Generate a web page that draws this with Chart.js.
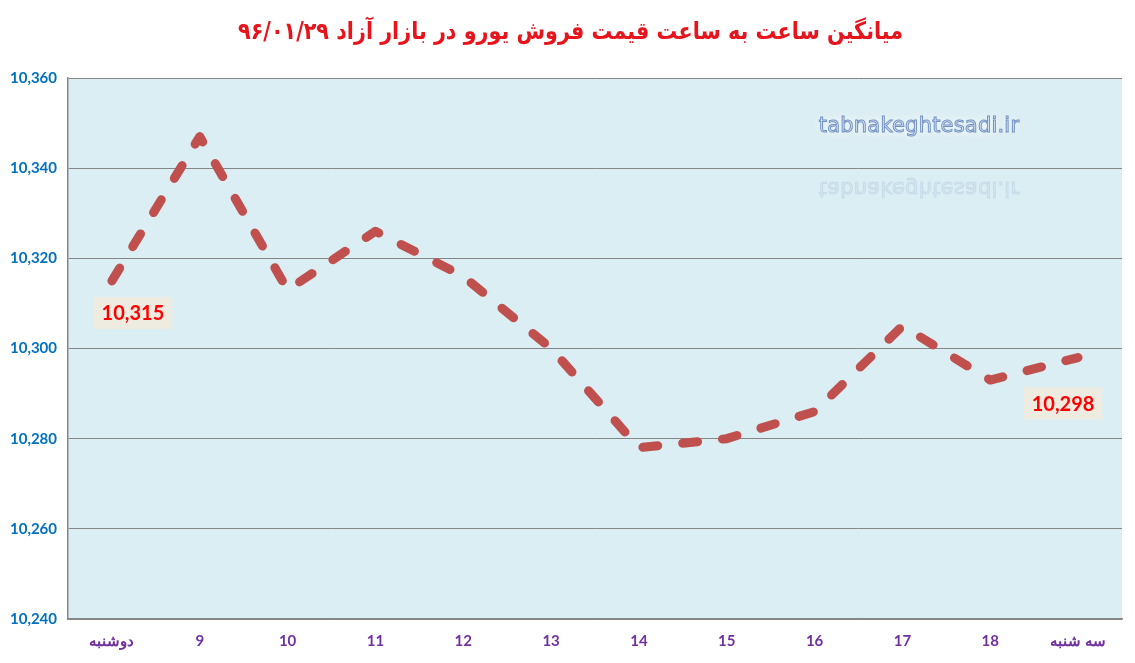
<!DOCTYPE html>
<html><head><meta charset="utf-8">
<script src="https://cdn.jsdelivr.net/npm/chart.js@4/dist/chart.umd.min.js"></script>
<style>html,body{margin:0;padding:0;background:#fff;overflow:hidden}#wrap{width:1135px;height:663px;position:relative}</style>
</head><body><div id="wrap"><canvas id="c"></canvas></div>
<script>
const categories = ['دوشنبه','9','10','11','12','13','14','15','16','17','18','سه شنبه'];
const prices = [10315,10347,10313,10326,10316,10300,10278,10280,10286,10305,10293,10298];
const yMin = 10240, yMax = 10360, yStep = 20;
const titleText = 'میانگین ساعت به ساعت قیمت فروش یورو در بازار آزاد ۹۶/۰۱/۲۹';
const watermarkText = 'tabnakeghtesadi.ir';
const labelledIndices = [0, 11];

const fmt = v => Number(v).toLocaleString('en-US');

const bgPlugin = {
  id: 'bg',
  beforeDraw(chart) {
    const {ctx, chartArea: a} = chart;
    ctx.save();
    ctx.fillStyle = '#DAEEF3';
    ctx.fillRect(a.left, a.top, a.right - a.left, a.bottom - a.top);
    ctx.restore();
  }
};

const decorPlugin = {
  id: 'decor',
  beforeDatasetsDraw(chart) {
    const {ctx, chartArea: a} = chart;
    // watermark
    ctx.save();
    const wx = a.left + (a.right - a.left) * 0.8074, wy = 127;
    ctx.font = '21px "DejaVu Sans"';
    ctx.letterSpacing = '0.2px';
    ctx.textAlign = 'center';
    ctx.textBaseline = 'middle';
    ctx.shadowColor = 'rgba(255,255,255,1)';
    ctx.shadowBlur = 14;
    ctx.fillStyle = '#DCE8F6';
    ctx.fillText(watermarkText, wx, wy);
    ctx.fillText(watermarkText, wx, wy);
    ctx.shadowBlur = 0;
    ctx.lineWidth = 1;
    ctx.strokeStyle = '#7391C4';
    ctx.strokeText(watermarkText, wx, wy);
    // reflection
    ctx.translate(0, 2 * wy + 60);
    ctx.scale(1, -1);
    ctx.globalAlpha = 0.22;
    ctx.fillStyle = '#C9D9EC';
    ctx.fillText(watermarkText, wx, wy);
    ctx.strokeStyle = '#8FA6CC';
    ctx.strokeText(watermarkText, wx, wy);
    ctx.restore();
  },
  afterDraw(chart) {
    const {ctx} = chart;
    // title
    ctx.save();
    ctx.font = 'bold 24px "DejaVu Sans"';
    ctx.fillStyle = '#E8141B';
    ctx.textAlign = 'center';
    ctx.textBaseline = 'middle';
    ctx.direction = 'rtl';
    ctx.translate(chart.width / 2 + 3, 33);
    ctx.scale(0.863, 1);
    ctx.fillText(titleText, 0, 0);
    ctx.restore();
    // data labels
    const meta = chart.getDatasetMeta(0);
    const offsets = {0: [21, 32], 11: [-15, 46]};
    ctx.save();
    ctx.font = 'bold 20px Lato';
    ctx.textAlign = 'center';
    ctx.textBaseline = 'middle';
    labelledIndices.forEach(i => {
      const p = meta.data[i];
      const [dx, dy] = offsets[i];
      const cx = p.x + dx, cy = p.y + dy;
      const txt = fmt(prices[i]);
      const w = ctx.measureText(txt).width + 16, h = 32;
      ctx.fillStyle = '#EEECE1';
      ctx.fillRect(cx - w / 2, cy - h / 2, w, h);
      ctx.fillStyle = '#FF0000';
      ctx.fillText(txt, cx, cy + 1);
    });
    ctx.restore();
  }
};

new Chart(document.getElementById('c'), {
  type: 'line',
  data: {
    labels: categories,
    datasets: [{
      data: prices,
      borderColor: '#C0504D',
      borderWidth: 9,
      borderDash: [15, 25],
      borderCapStyle: 'round',
      borderJoinStyle: 'round',
      pointRadius: 0,
      tension: 0,
      fill: false
    }]
  },
  options: {
    responsive: true,
    maintainAspectRatio: false,
    animation: false,
    devicePixelRatio: 1,
    layout: {padding: {top: 78, right: 13, left: 0, bottom: 0}},
    plugins: {legend: {display: false}, tooltip: {enabled: false}, title: {display: false}},
    scales: {
      x: {
        offset: true,
        grid: {display: false, drawTicks: false},
        border: {display: true, color: '#868686', width: 1.5},
        ticks: {padding: 13, color: '#7030A0', font: {family: 'Lato', weight: 'bold', size: 15}, maxRotation: 0, autoSkip: false},
        afterFit(s) { s.height = 44; }
      },
      y: {
        min: yMin, max: yMax,
        grid: {color: '#868686', lineWidth: 1, drawTicks: false},
        border: {display: true, color: '#868686', width: 1.5},
        ticks: {stepSize: yStep, padding: 11, color: '#0070C0', font: {family: 'Lato', weight: 'bold', size: 15}, callback: v => fmt(v)},
        afterFit(s) { s.width = 68; }
      }
    }
  },
  plugins: [bgPlugin, decorPlugin]
});
</script>
</body></html>
